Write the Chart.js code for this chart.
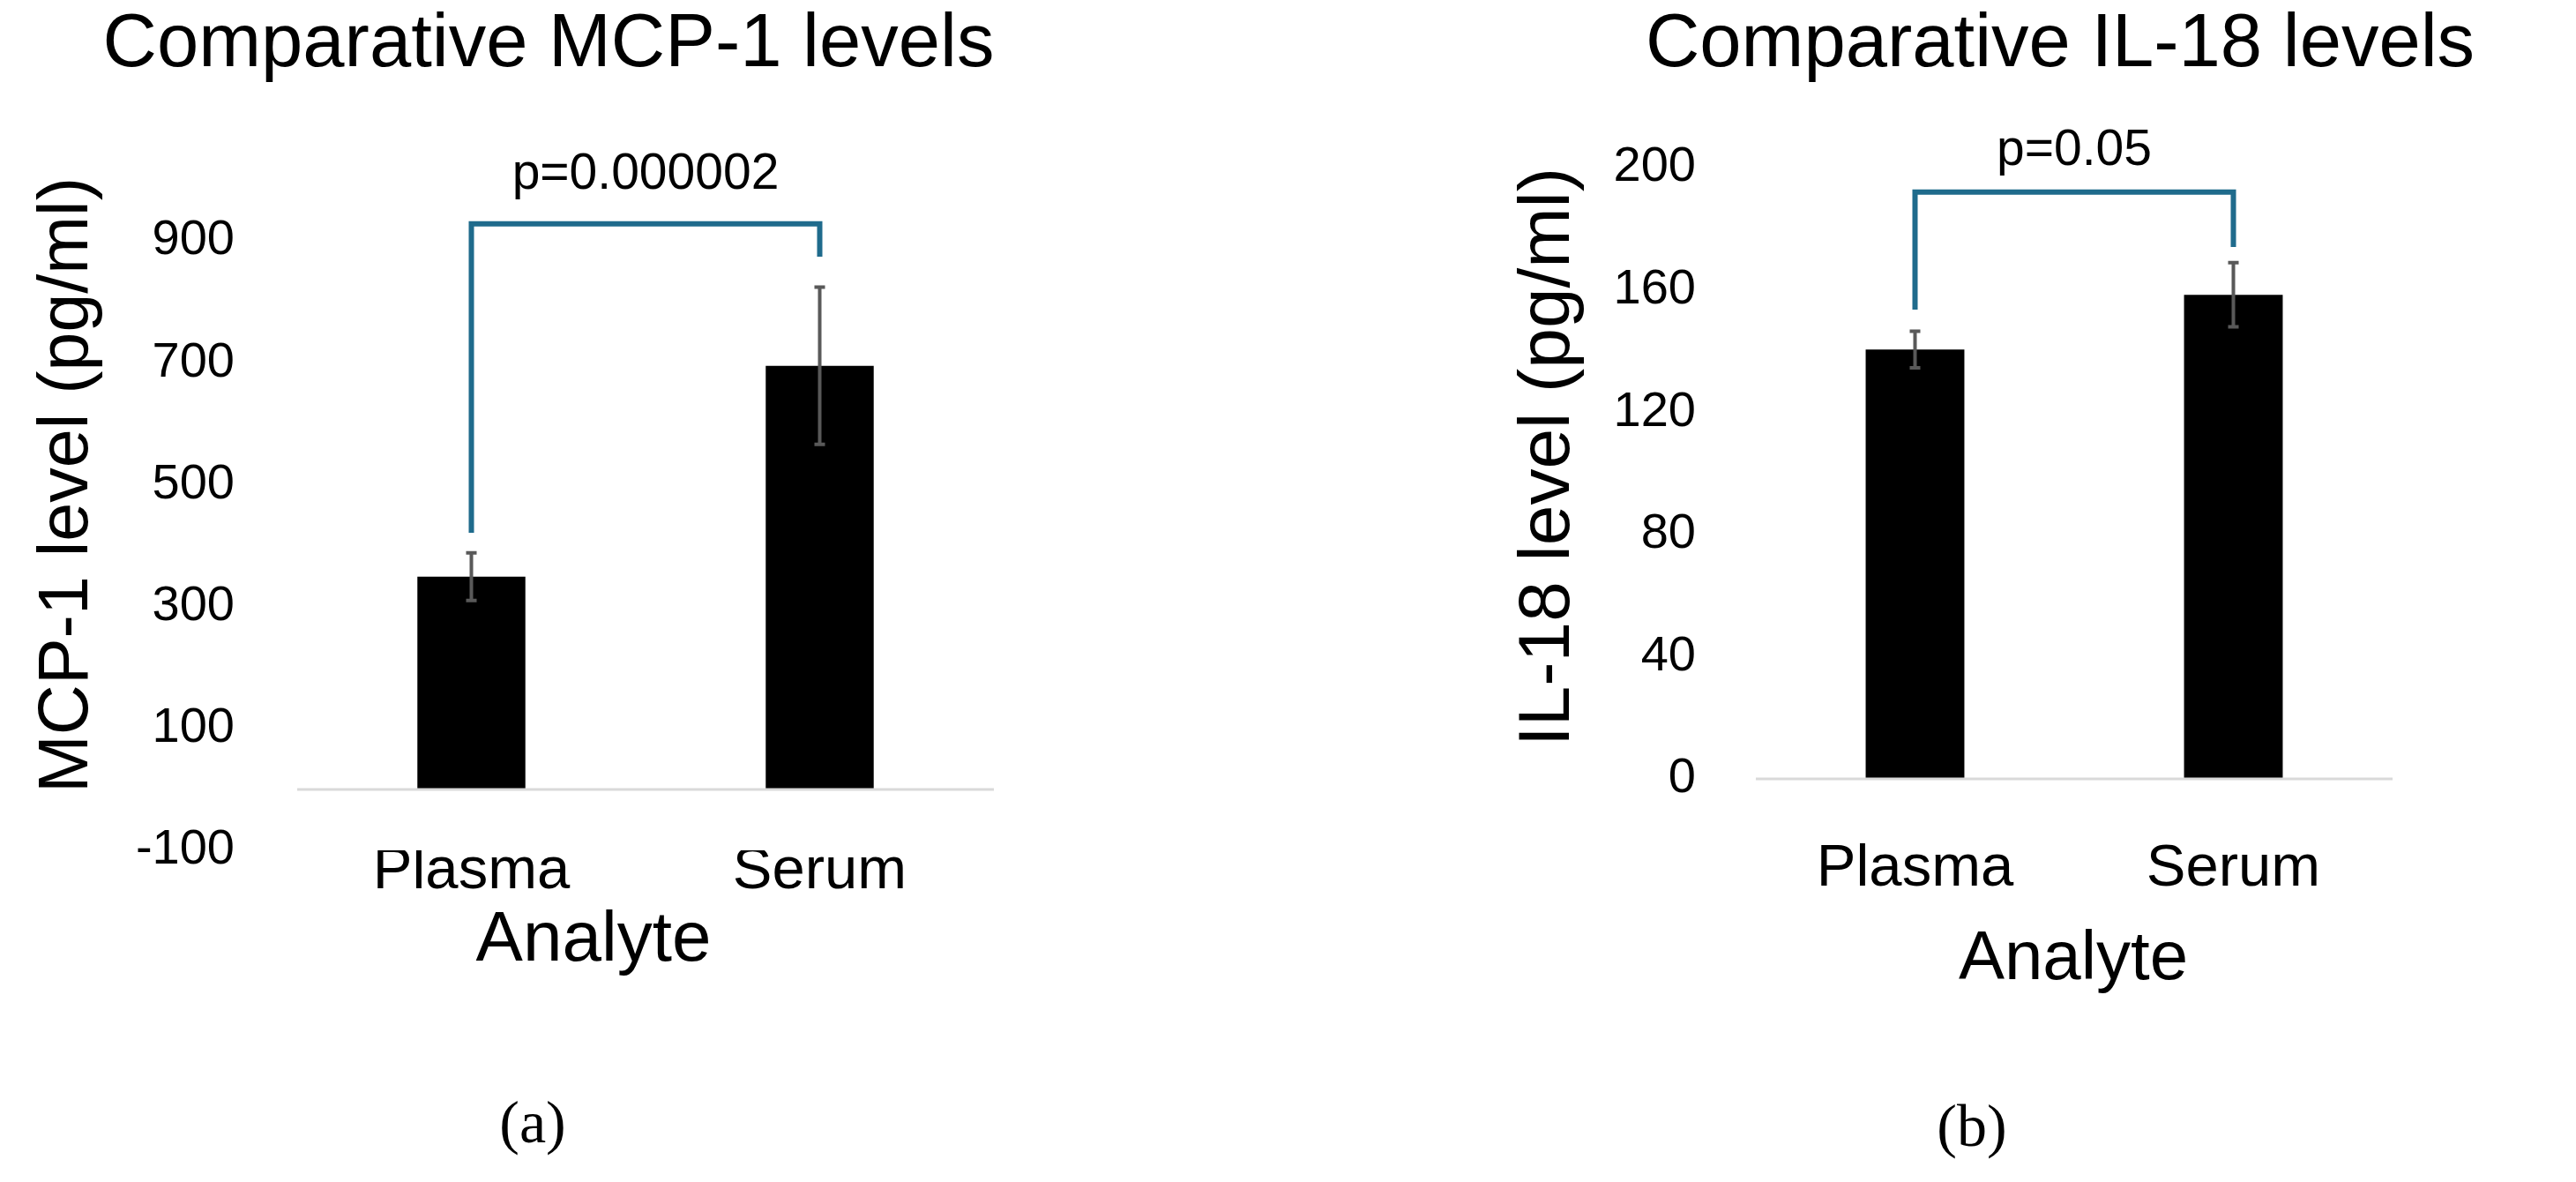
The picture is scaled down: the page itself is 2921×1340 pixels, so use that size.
<!DOCTYPE html>
<html>
<head>
<meta charset="utf-8">
<script src="https://cdn.jsdelivr.net/npm/chart.js@4.4.1/dist/chart.umd.min.js"></script>
<style>
  body { margin: 0; background: #fff; width: 2921px; height: 1340px; position: relative; overflow: hidden; }
  .box { position: absolute; top: 0; height: 1340px; }
</style>
</head>
<body>
<div class="box" style="left:0;width:1460px"><canvas id="mcpChart"></canvas></div>
<div class="box" style="left:1460px;width:1461px"><canvas id="ilChart"></canvas></div>
<script>
const categories = ["Plasma", "Serum"];

const mcpMeans = [349, 695];
const mcpErrors = [39, 129];
const mcpTicks = [-100, 100, 300, 500, 700, 900];
const mcpBracket = [928, 421, 874]; // top, left leg end, right leg end
const mcpP = "p=0.000002";

const ilMeans = [140.5, 158.4];
const ilErrors = [6, 10.5];
const ilTicks = [0, 40, 80, 120, 160, 200];
const ilBracket = [192, 153.5, 174];
const ilP = "p=0.05";

const FONT = "'Liberation Sans', Arial, sans-serif";

// error bars, significance bracket, baseline and the texts
const extras = {
    id: "extras",
    afterDatasetsDraw(chart, args, o) {
        const ctx = chart.ctx;
        const x = chart.scales.x, y = chart.scales.y;
        const area = chart.chartArea;
        ctx.save();

        // baseline at zero
        ctx.strokeStyle = "#d9d9d9";
        ctx.lineWidth = 3;
        ctx.beginPath();
        ctx.moveTo(area.left, y.getPixelForValue(0));
        ctx.lineTo(area.right, y.getPixelForValue(0));
        ctx.stroke();

        // error bars
        ctx.strokeStyle = "#595959";
        ctx.lineWidth = 4;
        o.means.forEach((m, i) => {
            const cx = x.getPixelForValue(i);
            const hi = y.getPixelForValue(m + o.errors[i]);
            const lo = y.getPixelForValue(m - o.errors[i]);
            ctx.beginPath();
            ctx.moveTo(cx, hi); ctx.lineTo(cx, lo);
            ctx.moveTo(cx - 6, hi); ctx.lineTo(cx + 6, hi);
            ctx.moveTo(cx - 6, lo); ctx.lineTo(cx + 6, lo);
            ctx.stroke();
        });

        // bracket
        const x0 = x.getPixelForValue(0), x1 = x.getPixelForValue(1);
        ctx.strokeStyle = "#1f6b8c";
        ctx.lineWidth = 6;
        ctx.beginPath();
        ctx.moveTo(x0, y.getPixelForValue(o.bracket[1]));
        ctx.lineTo(x0, y.getPixelForValue(o.bracket[0]));
        ctx.lineTo(x1, y.getPixelForValue(o.bracket[0]));
        ctx.lineTo(x1, y.getPixelForValue(o.bracket[2]));
        ctx.stroke();

        ctx.fillStyle = "#000";
        ctx.textAlign = "center";
        ctx.textBaseline = "middle";
        ctx.font = "57px " + FONT;
        ctx.fillText(o.p, (x0 + x1) / 2, o.pY);

        ctx.font = "85px " + FONT;
        ctx.fillText(o.title, o.titleX, 52);

        ctx.font = o.analyteSize + "px " + FONT;
        ctx.fillText("Analyte", o.analyteX, o.analyteY);

        ctx.font = "68px 'Liberation Serif', serif";
        ctx.fillText(o.tag, o.tagX, o.tagY);

        ctx.font = o.yTitleSize + "px " + FONT;
        ctx.translate(o.yTitleX, o.yTitleY);
        ctx.rotate(-Math.PI / 2);
        ctx.fillText(o.yTitle, 0, 0);
        ctx.restore();
    }
};

function makeChart(id, cfg) {
    return new Chart(document.getElementById(id), {
        type: "bar",
        data: {
            labels: categories,
            datasets: [{ data: cfg.means, backgroundColor: "#000", categoryPercentage: 1, barPercentage: 0.31 }]
        },
        options: {
            responsive: true,
            maintainAspectRatio: false,
            animation: false,
            layout: { padding: { top: cfg.top, right: cfg.right, left: 0, bottom: 0 } },
            plugins: { legend: { display: false }, tooltip: { enabled: false }, extras: cfg.extras },
            scales: {
                x: {
                    grid: { display: false },
                    border: { display: false },
                    ticks: { color: "#000", font: { family: FONT, size: 67 }, padding: cfg.xPad, maxRotation: 0 },
                    afterFit: s => { s.height = cfg.xHeight; }
                },
                y: {
                    min: cfg.ticks[0],
                    max: cfg.ticks[cfg.ticks.length - 1],
                    grid: { display: false, drawTicks: false },
                    border: { display: false },
                    afterBuildTicks: s => { s.ticks = cfg.ticks.map(v => ({ value: v })); },
                    ticks: { color: "#000", font: { family: FONT, size: 56 }, padding: cfg.yPad },
                    afterFit: s => { s.width = cfg.yWidth; }
                }
            }
        },
        plugins: [extras]
    });
}

makeChart("mcpChart", {
    means: mcpMeans, ticks: mcpTicks, top: 273, right: 333, xHeight: 376, yWidth: 337, yPad: 71, xPad: -24,
    extras: {
        means: mcpMeans, errors: mcpErrors, bracket: mcpBracket, p: mcpP, pY: 198,
        title: "Comparative MCP-1 levels", titleX: 622,
        analyteX: 673, analyteY: 1067, analyteSize: 80, tag: "(a)", tagX: 604, tagY: 1277,
        yTitle: "MCP-1 level (pg/ml)", yTitleX: 77, yTitleY: 550, yTitleSize: 79
    }
});

makeChart("ilChart", {
    means: ilMeans, ticks: ilTicks, top: 190, right: 208, xHeight: 457, yWidth: 531, yPad: 68, xPad: 54,
    extras: {
        means: ilMeans, errors: ilErrors, bracket: ilBracket, p: ilP, pY: 171,
        title: "Comparative IL-18 levels", titleX: 876,
        analyteX: 891, analyteY: 1088, analyteSize: 78, tag: "(b)", tagX: 776, tagY: 1281,
        yTitle: "IL-18 level (pg/ml)", yTitleX: 296, yTitleY: 518, yTitleSize: 82
    }
});
</script>
</body>
</html>
